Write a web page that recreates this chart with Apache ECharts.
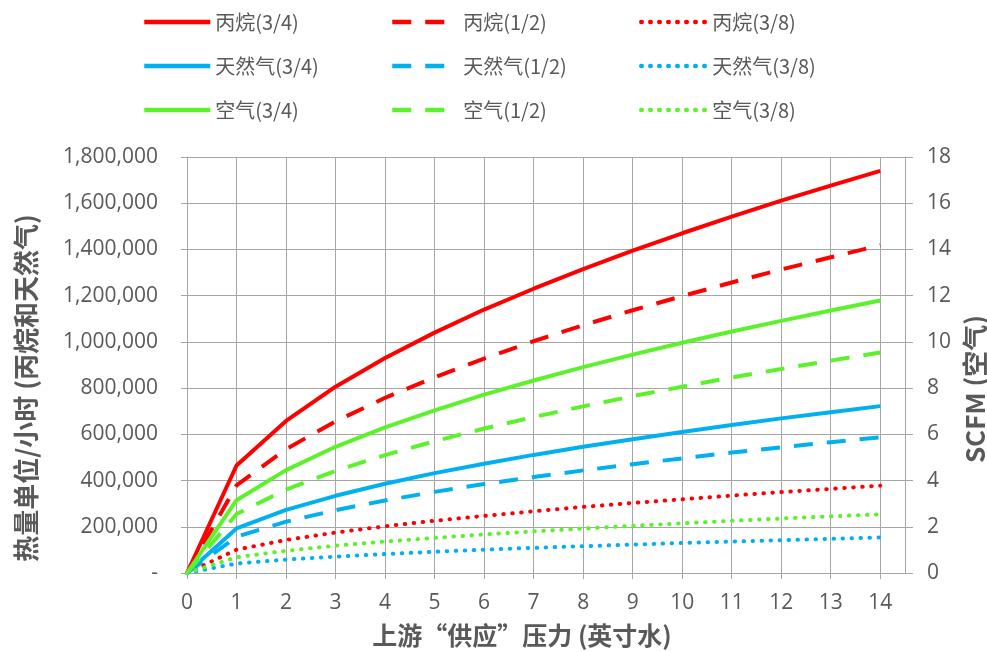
<!DOCTYPE html>
<html>
<head>
<meta charset="utf-8">
<script src="https://cdn.jsdelivr.net/npm/echarts@6/dist/echarts.min.js"></script>
<style>
  html, body { margin: 0; padding: 0; background: #fff; }
  #chart { width: 987px; height: 652px; }
</style>
</head>
<body>
<div id="chart"></div>
<script>
// 上游压力 (英寸水)
var pressure = [0, 1, 2, 3, 4, 5, 6, 7, 8, 9, 10, 11, 12, 13, 14]

// 丙烷 / 天然气 : 热量单位/小时 (左轴)
var propane34 = [0, 465000, 658000, 806000, 930000, 1040000, 1140000, 1230000, 1315000, 1395000, 1470000, 1542000, 1611000, 1676000, 1740000]
var propane12 = [0, 379000, 536000, 656000, 758000, 847000, 928000, 1003000, 1072000, 1137000, 1198000, 1257000, 1313000, 1366000, 1418000]
var propane38 = [0, 101000, 143000, 175000, 202000, 226000, 247000, 267000, 286000, 303000, 319000, 335000, 350000, 364000, 378000]
var gas34 = [0, 193000, 273000, 334000, 386000, 432000, 473000, 511000, 546000, 579000, 610000, 640000, 669000, 696000, 722000]
var gas12 = [0, 157000, 222000, 272000, 314000, 351000, 385000, 415000, 444000, 471000, 496000, 521000, 544000, 566000, 587000]
var gas38 = [0, 41000, 58000, 71000, 82000, 92000, 101000, 109000, 116000, 123000, 130000, 136000, 142000, 148000, 154000]

// 空气 : SCFM (右轴)
var air34 = [0, 3.15, 4.45, 5.46, 6.30, 7.04, 7.72, 8.33, 8.91, 9.45, 9.96, 10.45, 10.91, 11.36, 11.79]
var air12 = [0, 2.55, 3.61, 4.42, 5.10, 5.70, 6.25, 6.75, 7.21, 7.65, 8.06, 8.46, 8.83, 9.19, 9.54]
var air38 = [0, 0.68, 0.96, 1.18, 1.36, 1.52, 1.67, 1.80, 1.92, 2.04, 2.15, 2.26, 2.36, 2.45, 2.54]

var RED = '#FF0000'
var BLUE = '#00B0F0'
var GREEN = '#5CF22B'
var TEXT = '#595959'
var GRID = '#A6A6A6'
var FONT = '"Noto Sans CJK SC", "Noto Sans", sans-serif'
var NUM_FONT = '"Open Sans", "Noto Sans", sans-serif'

var DASH = [19, 14]
var DOT = [0.5, 8.5]

function pairs(values) {
  return pressure.map(function (p, i) { return [p, values[i]] })
}

function makeSeries(name, values, color, dash, axis) {
  return {
    name: name,
    type: 'line',
    yAxisIndex: axis,
    data: pairs(values),
    symbol: 'none',
    showSymbol: false,
    animation: false,
    lineStyle: {
      color: color,
      width: 4,
      type: dash,
      cap: dash === DOT ? 'round' : 'butt'
    },
    itemStyle: { color: color },
    z: 3
  }
}

// 图例: 三列, 每列三行
function legendCol(left, names) {
  return {
    left: left,
    top: 6,
    orient: 'vertical',
    itemWidth: 66,
    itemHeight: 22,
    itemGap: 22,
    data: names,
    itemStyle: { opacity: 0 },
    lineStyle: { width: 4.5 },
    textStyle: { color: TEXT, fontSize: 20, lineHeight: 22, fontFamily: FONT }
  }
}

var myChart = echarts.init(document.getElementById('chart'))

var option = {
  backgroundColor: '#fff',
  legend: [
    legendCol(137, ['丙烷(3/4)', '天然气(3/4)', '空气(3/4)']),
    legendCol(385, ['丙烷(1/2)', '天然气(1/2)', '空气(1/2)']),
    legendCol(634, ['丙烷(3/8)', '天然气(3/8)', '空气(3/8)'])
  ],
  grid: {
    left: 187,
    right: 82,
    top: 157,
    bottom: 79,
    outerBoundsMode: 'none',
    containLabel: false
  },
  xAxis: {
    type: 'value',
    min: 0,
    max: 14.5,
    interval: 1,
    name: '上游“供应”压力 (英寸水)',
    nameLocation: 'middle',
    nameGap: 50,
    nameTextStyle: { color: TEXT, fontSize: 25, fontWeight: 'bold', fontFamily: FONT, padding: [0, 48, 0, 0] },
    axisLine: { show: true, lineStyle: { color: GRID, width: 1 } },
    axisTick: { show: true, length: 6, lineStyle: { color: GRID } },
    splitLine: { show: true, lineStyle: { color: GRID, width: 1 } },
    axisLabel: {
      color: TEXT,
      fontSize: 21,
      fontFamily: NUM_FONT,
      margin: 20,
      showMaxLabel: false,
      formatter: function (v) { return Number.isInteger(v) ? String(v) : '' }
    }
  },
  yAxis: [
    {
      type: 'value',
      min: 0,
      max: 1800000,
      interval: 200000,
      name: '热量单位/小时 (丙烷和天然气)',
      nameLocation: 'middle',
      nameGap: 148,
      nameRotate: 90,
      nameTextStyle: { color: TEXT, fontSize: 26, fontWeight: 'bold', fontFamily: FONT, padding: [0, 46, 0, 0] },
      axisLine: { show: true, lineStyle: { color: GRID } },
      axisTick: { show: true, length: 6, lineStyle: { color: GRID } },
      splitLine: { show: true, lineStyle: { color: GRID, width: 1 } },
      axisLabel: {
        color: TEXT,
        fontSize: 21,
        fontFamily: NUM_FONT,
        margin: 29,
        formatter: function (v) { return v === 0 ? '-' : v.toLocaleString('en-US') }
      }
    },
    {
      type: 'value',
      min: 0,
      max: 18,
      interval: 2,
      position: 'right',
      name: 'SCFM (空气)',
      nameLocation: 'middle',
      nameGap: 41,
      nameRotate: 90,
      nameTextStyle: { color: TEXT, fontSize: 26, fontWeight: 'bold', fontFamily: FONT, padding: [0, 48, 0, 0] },
      axisLine: { show: true, lineStyle: { color: GRID } },
      axisTick: { show: true, length: 8, lineStyle: { color: GRID } },
      splitLine: { show: false },
      axisLabel: { color: TEXT, fontSize: 21, fontFamily: NUM_FONT, margin: 22 }
    }
  ],
  series: [
    makeSeries('丙烷(3/4)', propane34, RED, 'solid', 0),
    makeSeries('丙烷(1/2)', propane12, RED, DASH, 0),
    makeSeries('丙烷(3/8)', propane38, RED, DOT, 0),
    makeSeries('天然气(3/4)', gas34, BLUE, 'solid', 0),
    makeSeries('天然气(1/2)', gas12, BLUE, DASH, 0),
    makeSeries('天然气(3/8)', gas38, BLUE, DOT, 0),
    makeSeries('空气(3/4)', air34, GREEN, 'solid', 1),
    makeSeries('空气(1/2)', air12, GREEN, DASH, 1),
    makeSeries('空气(3/8)', air38, GREEN, DOT, 1)
  ]
}

myChart.setOption(option)
</script>
</body>
</html>
